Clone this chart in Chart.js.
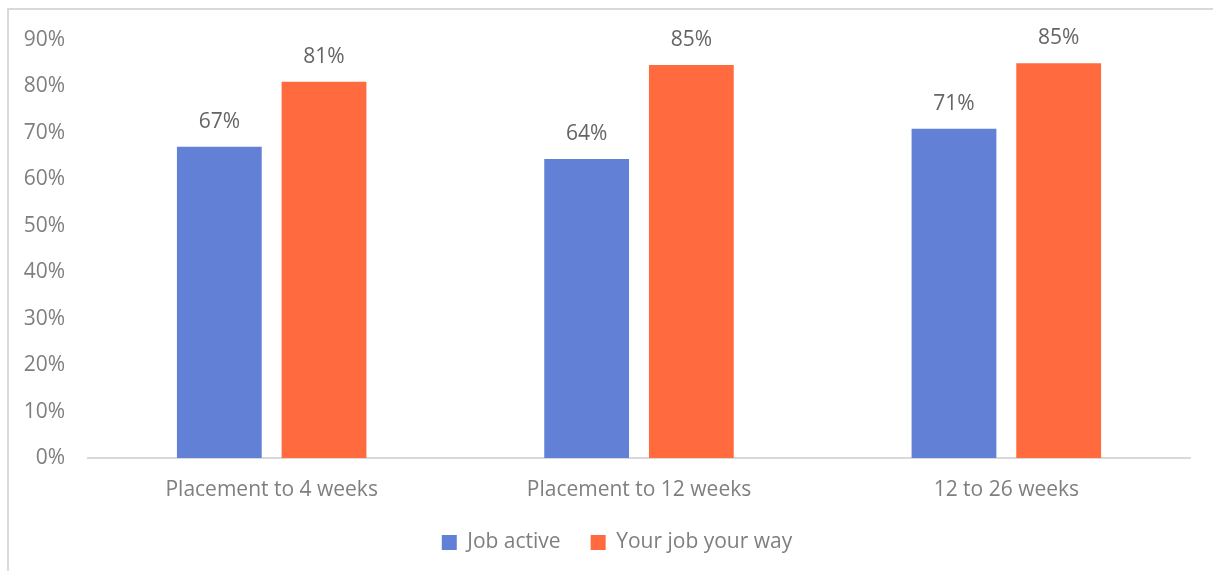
<!DOCTYPE html>
<html>
<head>
<meta charset="utf-8">
<script src="https://cdn.jsdelivr.net/npm/chart.js@4/dist/chart.umd.min.js"></script>
<style>
  html, body { margin: 0; padding: 0; background: #fff; overflow: hidden; }
  #frame {
    position: absolute; left: 7px; top: 8px; width: 1300px; height: 700px;
    border: 2px solid #d9d9d9; box-sizing: border-box;
  }
  #wrap { position: absolute; left: 0; top: 0; width: 1213px; height: 571px; }
</style>
</head>
<body>
<div id="frame"></div>
<div id="wrap"><canvas id="chart"></canvas></div>
<script>
// Chart data
const categories = ['Placement to 4 weeks', 'Placement to 12 weeks', '12 to 26 weeks'];
const jobActive = [67, 64.4, 70.9];
const yourJobYourWay = [81, 84.6, 85];
const yTicks = [0, 10, 20, 30, 40, 50, 60, 70, 80, 90];

const FONT = "'Open Sans', 'Noto Sans', sans-serif";
const FONT_SIZE = 21;

// draws the percentage above each bar
const valueLabels = {
  id: 'valueLabels',
  afterDatasetsDraw(chart) {
    const ctx = chart.ctx;
    ctx.save();
    ctx.font = FONT_SIZE + 'px ' + FONT;
    ctx.fillStyle = '#656565';
    ctx.textAlign = 'center';
    ctx.textBaseline = 'middle';
    chart.data.datasets.forEach((ds, i) => {
      chart.getDatasetMeta(i).data.forEach((bar, j) => {
        ctx.fillText(Math.round(ds.data[j]) + '%', bar.x, bar.y - 25);
      });
    });
    ctx.restore();
  },
};

// nudge the legend right so it sits closer to the middle of the bars
const legendShift = {
  id: 'legendShift',
  afterLayout(chart) {
    if (chart.legend) {
      chart.legend.left += 22;
      chart.legend.right += 22;
    }
  },
};

new Chart(document.getElementById('chart'), {
  type: 'bar',
  data: {
    labels: categories,
    datasets: [
      { label: 'Job active', data: jobActive, backgroundColor: '#6180D6' },
      { label: 'Your job your way', data: yourJobYourWay, backgroundColor: '#FF6B3F' },
    ],
  },
  options: {
    responsive: true,
    maintainAspectRatio: false,
    animation: false,
    categoryPercentage: 0.57,
    barPercentage: 0.81,
    layout: { padding: { top: 40, right: 23, left: 0, bottom: 8 } },
    plugins: {
      tooltip: { enabled: false },
      legend: {
        position: 'bottom',
        labels: {
          boxWidth: 15,
          boxHeight: 15,
          padding: 30,
          color: '#7f7f7f',
          font: { family: FONT, size: FONT_SIZE },
        },
      },
    },
    scales: {
      x: {
        afterFit(scale) {
          scale.height = 44;
        },
        grid: { display: false, drawTicks: false },
        border: { display: true, color: '#d9d9d9', width: 2 },
        ticks: { color: '#7f7f7f', padding: 19, font: { family: FONT, size: FONT_SIZE } },
      },
      y: {
        min: 0,
        max: 90,
        afterBuildTicks(scale) {
          scale.ticks = yTicks.map((v) => ({ value: v }));
        },
        afterFit(scale) {
          scale.width = 88;
        },
        grid: { display: false, drawTicks: false },
        border: { display: false },
        ticks: {
          color: '#7f7f7f',
          padding: 23,
          font: { family: FONT, size: FONT_SIZE },
          callback: (v) => v + '%',
        },
      },
    },
  },
  plugins: [valueLabels, legendShift],
});
</script>
</body>
</html>
